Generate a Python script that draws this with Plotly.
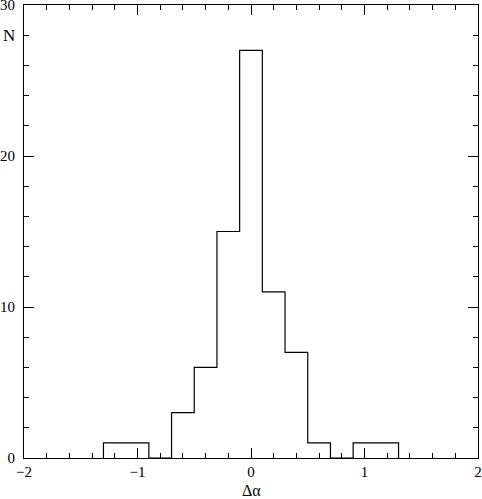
import plotly.graph_objects as go

# bin centres and counts of the histogram (bin width 0.2)
bin_centers = [-1.2, -1.0, -0.8, -0.6, -0.4, -0.2, 0.0, 0.2, 0.4, 0.6, 0.8, 1.0, 1.2]
counts = [1, 1, 0, 3, 6, 15, 27, 11, 7, 1, 0, 1, 1]
bin_width = 0.2

x_range = [-2, 2]
y_range = [0, 30]
x_title = "Δα"
y_title = "N"

FONT = "Liberation Serif"

# build the step outline from the bins
edges = [round(c - bin_width / 2, 3) for c in bin_centers]
edges.append(round(bin_centers[-1] + bin_width / 2, 3))
step_x = [edges[0]] + edges
step_y = [0] + counts + [0]

fig = go.Figure()
fig.add_trace(
    go.Scatter(
        x=step_x,
        y=step_y,
        mode="lines",
        line=dict(color="black", width=1.2, shape="hv"),
        hoverinfo="skip",
        showlegend=False,
    )
)
# invisible trace so the mirrored (top/right) axes get drawn
fig.add_trace(
    go.Scatter(
        x=x_range, y=y_range, xaxis="x2", yaxis="y2",
        mode="markers", marker=dict(opacity=0),
        hoverinfo="skip", showlegend=False,
    )
)

tick_style = dict(
    showline=True,
    linecolor="black",
    linewidth=1.2,
    ticks="inside",
    tickcolor="black",
    tickwidth=1.2,
    ticklen=10,
    showgrid=False,
    zeroline=False,
    automargin=False,
    ticklabeloverflow="allow",
    tickfont=dict(family=FONT, size=15, color="black"),
)
x_ticks = dict(
    range=x_range, dtick=1, tick0=-2,
    minor=dict(dtick=0.2, tick0=-2, ticks="inside", ticklen=5, tickcolor="black", tickwidth=1.2),
)
y_ticks = dict(
    range=y_range, dtick=10, tick0=0,
    minor=dict(dtick=2, tick0=0, ticks="inside", ticklen=5, tickcolor="black", tickwidth=1.2),
)

fig.update_layout(
    xaxis=dict(**tick_style, **x_ticks),
    yaxis=dict(**tick_style, **y_ticks, ticklabelstandoff=5),
    xaxis2=dict(**tick_style, **x_ticks, overlaying="x", side="top", showticklabels=False),
    yaxis2=dict(**tick_style, **y_ticks, overlaying="y", side="right", showticklabels=False),
)

# axis titles placed as in the original
fig.add_annotation(
    text=x_title, x=0, xref="x", y=0, yref="paper", yshift=-32,
    xanchor="center", yanchor="middle",
    showarrow=False, font=dict(family=FONT, size=16, color="black"),
)
fig.add_annotation(
    text=y_title, x=0, xref="paper", xshift=-15, y=28, yref="y",
    xanchor="center", yanchor="middle",
    showarrow=False, font=dict(family=FONT, size=17, color="black"),
)

fig.update_layout(
    width=482,
    height=499,
    margin=dict(l=24, r=4, t=5, b=41),
    plot_bgcolor="white",
    paper_bgcolor="white",
)

# drop the page's default body margin so the figure fills the window
fig.write_html(
    "out.html",
    config={"displayModeBar": False},
    post_script="document.body.style.margin='0';",
)
